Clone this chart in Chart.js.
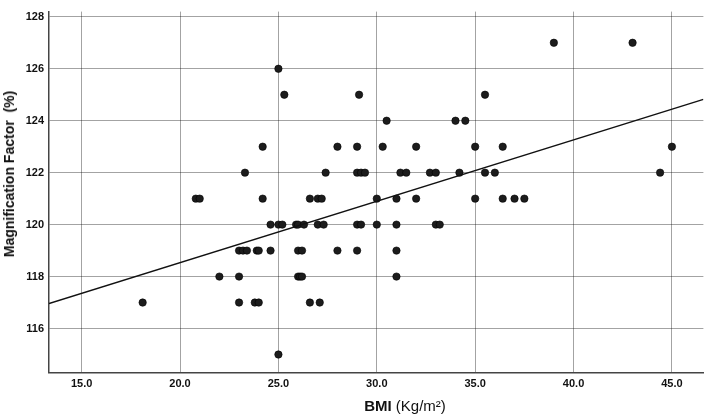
<!DOCTYPE html>
<html>
<head>
<meta charset="utf-8">
<script src="https://cdn.jsdelivr.net/npm/chart.js@4"></script>
<style>
  html, body { margin: 0; padding: 0; background: #fff; }
  #wrap { position: relative; width: 708px; height: 415px; }
  #yTitle {
    position: absolute; left: 9px; top: 174px;
    transform: translate(-50%, -50%) rotate(-90deg);
    white-space: nowrap; color: #111;
    font: bold 14px "Liberation Sans", Arial, sans-serif;
  }
  #xTitle {
    position: absolute; left: 405px; top: 405px;
    transform: translate(-50%, -50%);
    white-space: nowrap; color: #111;
    font: 15px "Liberation Sans", Arial, sans-serif;
  }
  #xTitle b { font-weight: bold; }
</style>
</head>
<body>
<div id="wrap">
  <canvas id="c" width="708" height="415"></canvas>
  <div id="yTitle">Magnification Factor&nbsp;&nbsp;(%)</div>
  <div id="xTitle"><b>BMI</b> (Kg/m²)</div>
</div>
<script>
// 読み取った値（BMI と拡大率、同じ順番）
const bmi = [
  39.0, 43.0,
  25.0,
  25.3, 29.1, 35.5,
  30.5, 34.0, 34.5,
  24.2, 28.0, 29.0, 30.3, 32.0, 35.0, 36.4, 45.0,
  23.3, 27.4, 29.0, 29.2, 29.4, 31.2, 31.5, 32.7, 33.0, 34.2, 35.5, 36.0, 44.4,
  20.8, 21.0, 24.2, 26.6, 27.0, 27.2, 30.0, 31.0, 32.0, 35.0, 36.4, 37.0, 37.5,
  24.6, 25.0, 25.2, 25.9, 26.0, 26.3, 27.0, 27.3, 29.0, 29.2, 30.0, 31.0, 33.0, 33.2,
  23.0, 23.2, 23.4, 23.9, 24.0, 24.6, 26.0, 26.2, 28.0, 29.0, 31.0,
  22.0, 23.0, 26.0, 26.1, 26.2, 31.0,
  18.1, 23.0, 23.8, 24.0, 26.6, 27.1,
  25.0
];
const magnification = [
  127, 127,
  126,
  125, 125, 125,
  124, 124, 124,
  123, 123, 123, 123, 123, 123, 123, 123,
  122, 122, 122, 122, 122, 122, 122, 122, 122, 122, 122, 122, 122,
  121, 121, 121, 121, 121, 121, 121, 121, 121, 121, 121, 121, 121,
  120, 120, 120, 120, 120, 120, 120, 120, 120, 120, 120, 120, 120, 120,
  119, 119, 119, 119, 119, 119, 119, 119, 119, 119, 119,
  118, 118, 118, 118, 118, 118,
  117, 117, 117, 117, 117, 117,
  115
];

// 回帰直線（左右の端の値）
const fitX = [13.34, 46.6];
const fitY = [116.96, 124.82];

const xTicks = [15, 20, 25, 30, 35, 40, 45];
const yTicks = [116, 118, 120, 122, 124, 126, 128];

const points = bmi.map((x, i) => ({ x, y: magnification[i] }));
const fitLine = fitX.map((x, i) => ({ x, y: fitY[i] }));

const tickFont = { family: "'Liberation Sans', Arial, sans-serif", size: 11, weight: "bold" };
const gridColor = "rgba(0,0,0,0.36)";

new Chart(document.getElementById("c"), {
  type: "scatter",
  data: {
    datasets: [
      {
        type: "line",
        data: fitLine,
        borderColor: "#111",
        borderWidth: 1.4,
        pointRadius: 0,
        fill: false
      },
      {
        data: points,
        backgroundColor: "#1c1c1c",
        borderColor: "#000",
        borderWidth: 0.6,
        pointRadius: 3.7
      }
    ]
  },
  options: {
    responsive: false,
    animation: false,
    layout: { padding: { top: 1.5, right: 3, left: 0, bottom: 0 } },
    plugins: { legend: { display: false }, tooltip: { enabled: false } },
    scales: {
      x: {
        type: "linear",
        min: 13.34, max: 46.6,
        afterBuildTicks: s => { s.ticks = xTicks.map(v => ({ value: v })); },
        afterFit: s => { s.height = 42.3; },
        ticks: { callback: v => Number(v).toFixed(1), font: tickFont, color: "#111", padding: 5, maxRotation: 0 },
        grid: { color: gridColor, drawTicks: false },
        border: { color: "#444", width: 1.5 }
      },
      y: {
        type: "linear",
        min: 114.3, max: 128.2,
        afterBuildTicks: s => { s.ticks = yTicks.map(v => ({ value: v })); },
        afterFit: s => { s.width = 49; },
        ticks: { callback: v => String(v), font: tickFont, color: "#111", padding: 5 },
        grid: { color: gridColor, drawTicks: false },
        border: { color: "#444", width: 1.5 }
      }
    }
  }
});
</script>
</body>
</html>
